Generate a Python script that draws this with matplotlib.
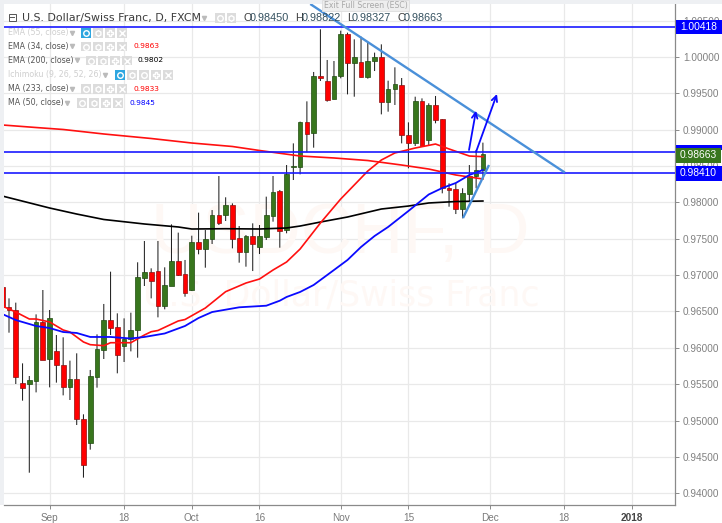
import numpy as np
import matplotlib
matplotlib.use('Agg')
import matplotlib.pyplot as plt
from matplotlib.patches import Rectangle

title = 'U.S. Dollar/Swiss Franc, D, FXCM'
ohlc_text = ['O0.98450', 'H0.98822', 'L0.98327', 'C0.98663']

days = np.arange(-1, 71)
opens = [0.96836, 0.96557, 0.96520, 0.95511, 0.95507, 0.95548, 0.96360, 0.95841, 0.95951, 0.95759,
         0.95461, 0.95566, 0.95025, 0.94686, 0.95603, 0.95974, 0.96382, 0.96282, 0.96025, 0.96117,
         0.96249, 0.96965, 0.97038, 0.97056, 0.96580, 0.96855, 0.97194, 0.97011, 0.96790, 0.97455,
         0.97354, 0.97492, 0.97827, 0.97827, 0.97964, 0.97506, 0.97313, 0.97542, 0.97391, 0.97529,
         0.97818, 0.98157, 0.97620, 0.98487, 0.98487, 0.99101, 0.98950, 0.99739, 0.99674, 0.99418,
         0.99739, 1.00316, 0.99922, 0.99936, 0.99725, 0.99945, 0.99995, 0.99381, 0.99555, 0.99619,
         0.98927, 0.98812, 0.99395, 0.98858, 0.99335, 0.99143, 0.98198, 0.98180, 0.97909, 0.98120,
         0.98363, 0.98450]
closes = [0.96561, 0.96520, 0.95594, 0.95452, 0.95553, 0.96350, 0.95837, 0.96405, 0.95759, 0.95461,
          0.95566, 0.95025, 0.94393, 0.95608, 0.95979, 0.96387, 0.96277, 0.95906, 0.96117, 0.96249,
          0.96969, 0.97038, 0.96919, 0.96580, 0.96859, 0.97194, 0.97001, 0.96758, 0.97455, 0.97354,
          0.97492, 0.97827, 0.97721, 0.97964, 0.97497, 0.97313, 0.97542, 0.97428, 0.97538, 0.97827,
          0.98148, 0.97611, 0.98391, 0.98505, 0.99101, 0.98945, 0.99739, 0.99716, 0.99413, 0.99739,
          1.00316, 0.99922, 1.00005, 0.99725, 0.99940, 0.99995, 0.99381, 0.99555, 0.99629, 0.98927,
          0.98822, 0.99395, 0.98780, 0.99335, 0.99133, 0.98194, 0.98171, 0.97905, 0.98125, 0.98368,
          0.98446, 0.98663]
highs = [0.96836, 0.96680, 0.96621, 0.95786, 0.95612, 0.96460, 0.96795, 0.96520, 0.96176, 0.96144,
         0.95823, 0.95924, 0.95085, 0.95695, 0.96185, 0.96603, 0.97047, 0.96474, 0.96405, 0.96483,
         0.97176, 0.97469, 0.97093, 0.97469, 0.97107, 0.97698, 0.97584, 0.97208, 0.97542, 0.97859,
         0.97620, 0.97895, 0.98363, 0.98070, 0.97987, 0.97675, 0.97551, 0.97712, 0.97689, 0.98079,
         0.98363, 0.98171, 0.98514, 0.98812, 0.99111, 0.99390, 0.99794, 1.00381, 0.99959, 0.99945,
         1.00362, 1.00335, 1.00243, 1.00280, 1.00197, 1.00060, 1.00174, 0.99674, 0.99858, 0.99711,
         0.99101, 0.99454, 0.99431, 0.99363, 0.99464, 0.99143, 0.98262, 0.98262, 0.98194, 0.98514,
         0.98721, 0.98822]
lows = [0.96561, 0.96208, 0.95502, 0.95273, 0.94282, 0.95387, 0.95832, 0.95456, 0.95521, 0.95346,
        0.95282, 0.94938, 0.94214, 0.94599, 0.95452, 0.95846, 0.96176, 0.95649, 0.95805, 0.95951,
        0.95864, 0.96850, 0.96680, 0.96419, 0.96529, 0.96850, 0.96988, 0.96703, 0.96781, 0.97286,
        0.97102, 0.97428, 0.97689, 0.97744, 0.97368, 0.97171, 0.97116, 0.97056, 0.97290, 0.97483,
        0.97735, 0.97377, 0.97575, 0.98308, 0.98386, 0.98689, 0.98753, 0.99670, 0.99386, 0.99418,
        0.99707, 0.99486, 0.99454, 0.99716, 0.99702, 0.99807, 0.99211, 0.99248, 0.99340, 0.98812,
        0.98469, 0.98776, 0.98767, 0.98790, 0.99088, 0.98125, 0.97941, 0.97840, 0.97781, 0.98010,
        0.98194, 0.98327]

ema34_days = [-1, 1, 3, 4, 6, 8, 9, 11, 12, 14, 15, 18, 20, 21, 22, 25, 26, 29, 32, 35, 37, 39,
              41, 43, 46, 49, 53, 55, 57, 60, 63, 65, 68, 70]
ema34 = [0.96575, 0.96492, 0.96396, 0.96396, 0.96355, 0.96245, 0.96217, 0.96080, 0.96043, 0.96029,
         0.96070, 0.96070, 0.96176, 0.96221, 0.96238, 0.96369, 0.96389, 0.96547, 0.96772, 0.96891,
         0.96946, 0.97070, 0.97180, 0.97359, 0.97717, 0.98047, 0.98432, 0.98583, 0.98680, 0.98748,
         0.98803, 0.98735, 0.98638, 0.98629]

ema200_days = [-1, 6, 10, 14, 20, 25, 27, 32, 37, 41, 43, 46, 50, 55, 59, 62, 66, 70]
ema200 = [0.98088, 0.97923, 0.97840, 0.97765, 0.97703, 0.97662, 0.97634, 0.97638, 0.97634, 0.97648,
          0.97675, 0.97730, 0.97799, 0.97909, 0.97950, 0.97992, 0.98012, 0.98019]

ma233_days = [-1, 4, 8, 14, 21, 27, 33, 37, 43, 48, 53, 58, 62, 66, 70]
ma233 = [0.99065, 0.99030, 0.99003, 0.98941, 0.98879, 0.98817, 0.98769, 0.98714, 0.98638, 0.98611,
         0.98576, 0.98514, 0.98459, 0.98377, 0.98322]

ma50_days = [-1, 1, 4, 6, 8, 10, 12, 15, 18, 20, 23, 26, 28, 30, 34, 38, 40, 41, 43, 45, 48, 50,
             52, 54, 56, 59, 62, 64, 66, 68, 70]
ma50 = [0.96465, 0.96382, 0.96300, 0.96272, 0.96217, 0.96204, 0.96149, 0.96149, 0.96128, 0.96149,
        0.96197, 0.96300, 0.96410, 0.96492, 0.96557, 0.96579, 0.96648, 0.96699, 0.96768, 0.96864,
        0.97070, 0.97208, 0.97387, 0.97538, 0.97662, 0.97882, 0.98109, 0.98198, 0.98267, 0.98377,
        0.98446]

levels = [1.00418, 0.98697, 0.98410]
level_labels = ['1.00418', '0.98663', '0.98410']

down_trend_days = [44.5, 82.1]
down_trend = [1.00729, 0.98411]
up_trend_days = [67.06, 70.9]
up_trend = [0.97785, 0.98514]
arrow_days = [(67.95, 68.98), (68.98, 72.08)]
arrow_prices = [(0.98721, 0.99261), (0.98693, 0.99491)]

xtick_days = [6, 17, 27, 37, 49, 59, 71, 82, 92]
xtick_labels = ['Sep', '18', 'Oct', '16', 'Nov', '15', 'Dec', '18', '2018']
ytick_prices = np.arange(0.94, 1.0051, 0.005)

legend_names = ['EMA (55, close)', 'EMA (34, close)', 'EMA (200, close)',
                'Ichimoku (9, 26, 52, 26)', 'MA (233, close)', 'MA (50, close)']
legend_values = ['', '0.9863', '0.9802', '', '0.9833', '0.9845']
legend_colors = ['#c8c8c8', '#ff0000', '#000000', '#c8c8c8', '#ff0000', '#0000ff']

GREEN = '#38761d'
RED = '#ff0000'
LINE_BLUE = '#1a1aff'
TREND = '#4a90d9'
GRID = '#e9e9e9'
SANS = 'Liberation Sans'
WATERMARK = '#fef8f5'

W, H = 722, 523
def day_at(px):
    return (px - 9) / 6.77
def price_at(py):
    return 1 - (py - 57) / 7270

fig = plt.figure(figsize=(W / 100, H / 100), dpi=100, facecolor='white')
L, R, T, B = 4, 675.3, 4, 505.3
ax = fig.add_axes([L / W, 1 - B / H, (R - L) / W, (B - T) / H])
ax.set_xlim(day_at(L), day_at(R))
ax.set_ylim(price_at(B), price_at(T))

for s in ['top', 'left']:
    ax.spines[s].set_visible(False)
for s in ['right', 'bottom']:
    ax.spines[s].set_color('#8a8a8a')
    ax.spines[s].set_linewidth(0.9)
ax.yaxis.tick_right()
ax.set_xticks(xtick_days)
ax.set_xticklabels(xtick_labels, fontfamily=SANS, fontsize=7.2, color='#7a7a7a')
ax.get_xticklabels()[-1].set_fontweight('bold')
ax.get_xticklabels()[-1].set_color('#444444')
ax.set_yticks(ytick_prices)
ax.set_yticklabels(['%.5f' % p for p in ytick_prices], fontfamily=SANS, fontsize=7.2, color='#808080')
ax.tick_params(axis='both', length=3, width=0.7, color='#8a8a8a', pad=2.5)
ax.grid(True, color=GRID, linewidth=0.9, zorder=0)
ax.set_axisbelow(True)

ov = fig.add_axes([0, 0, 1, 1], facecolor='none')
ov.set_xlim(0, W)
ov.set_ylim(H, 0)
ov.axis('off')
ov.set_zorder(3)

ax.text(day_at(340), price_at(235), 'USDCHF, D', fontfamily=SANS, fontsize=51, color=WATERMARK, ha='center', va='center', zorder=1)
ax.text(day_at(341), price_at(295), 'U.S. Dollar/Swiss Franc', fontsize=25, color=WATERMARK, ha='center', va='center', zorder=1)

opens_a = np.array(opens)
closes_a = np.array(closes)
tops = np.maximum(opens_a, closes_a)
bots = np.minimum(opens_a, closes_a)
colors = [GREEN if c >= o else RED for o, c in zip(opens, closes)]
edges = ['#1f4a10' if c >= o else '#8a1010' for o, c in zip(opens, closes)]
wicks = ax.vlines(days, lows, highs, color='#222222', linewidth=0.75, zorder=2)
wicks.set_snap(False)
ax.bar(days, tops - bots, bottom=bots, width=0.7, color=colors, edgecolor=edges, linewidth=0.5, zorder=3)

ax.plot(ma233_days, ma233, color='#ff1010', lw=1.2, zorder=4)
ax.plot(ema200_days, ema200, color='#000000', lw=1.2, zorder=4)
ax.plot(ema34_days, ema34, color='#ff1010', lw=1.2, zorder=4)
ax.plot(ma50_days, ma50, color='#0a0aff', lw=1.3, zorder=4)

for lev in levels:
    ax.axhline(lev, color=LINE_BLUE, lw=1.2, zorder=5)

ax.plot(down_trend_days, down_trend, color=TREND, lw=1.7, zorder=5, clip_on=False, solid_capstyle='butt')
ax.plot(up_trend_days, up_trend, color=TREND, lw=1.7, zorder=5, solid_capstyle='butt')
for xs, ys in zip(arrow_days, arrow_prices):
    ax.annotate('', xy=(xs[1], ys[1]), xytext=(xs[0], ys[0]), zorder=6,
                arrowprops=dict(arrowstyle='->', color='#0a0aff', lw=1.3, mutation_scale=10,
                                shrinkA=0, shrinkB=0))

# page strips around the chart
ov.add_patch(Rectangle((0, 0), W, T, color='#eef0f3', lw=0, zorder=0))
ov.add_patch(Rectangle((0, 0), L, B, color='#eef0f3', lw=0, zorder=0))
ov.add_patch(Rectangle((322, 0), 87, 11, facecolor='#eeeeee', edgecolor='#dddddd', lw=0.6, zorder=1))
ov.text(365.5, 5.8, 'Exit Full Screen (ESC)', fontsize=5.6, color='#a8a8a8', ha='center', va='center', zorder=2)

def small_box(x, y, glyph, on=False):
    ov.add_patch(Rectangle((x, y - 4.7), 9.6, 9.4, color='#2ea6e0' if on else '#dcdcdc', lw=0, zorder=2))
    ov.plot([x + 4.8], [y], marker=glyph, ms=4, mec='white', mfc='none', mew=1, zorder=3)

def drop_arrow(x, y, col='#bbbbbb'):
    ov.plot([x], [y], marker='v', ms=3, color=col, zorder=3)

# header
ov.add_patch(Rectangle((8.5, 13.5), 7, 7.5, facecolor='white', edgecolor='#555555', lw=0.7, zorder=2))
ov.plot([10, 14], [17.2, 17.2], color='#555555', lw=0.7, zorder=3)
ov.text(22, 18, title, fontsize=7.9, color='#3c3c3c', va='center', zorder=3)
drop_arrow(204, 17.5)
small_box(215, 18, 'o')
small_box(226.5, 18, 'h')
letter_gap = {'O': 7, 'H': 6.5, 'L': 5, 'C': 7}
for txt, px in zip(ohlc_text, [243, 295, 347, 397]):
    ov.text(px, 18, txt[0], fontfamily=SANS, fontsize=7.8, color='#3c3c3c', va='center', zorder=3)
    ov.text(px + letter_gap[txt[0]], 18, txt[1:], fontfamily=SANS, fontsize=7.8, color='#33505f', va='center', zorder=3)

# indicator legend
rows_y = [33, 46.5, 60.5, 75, 89, 103]
drop_x = [72, 72, 77, 105, 72, 67]
box_x = [81, 81, 86, 115, 81, 77]
value_x = [0, 133, 138, 0, 133, 129]
glyph_rows = [['o', 'h', 'P', 'x'], ['o', 'h', 'P', 'x'], ['o', 'h', 'P', 'x'],
              ['o', 'h', 'o', 'P', 'x'], ['o', 'h', 'P', 'x'], ['o', 'h', 'P', 'x']]
for i, name in enumerate(legend_names):
    faded = legend_values[i] == ''
    ov.text(8, rows_y[i], name, fontsize=5.7, color='#cfcfcf' if faded else '#555555', va='center', zorder=3)
    drop_arrow(drop_x[i], rows_y[i] - 0.5)
    for j, g in enumerate(glyph_rows[i]):
        small_box(box_x[i] + j * 12, rows_y[i], g, on=faded and j == 0)
    if legend_values[i]:
        ov.text(value_x[i], rows_y[i], legend_values[i], fontsize=5.4, color=legend_colors[i], va='center', zorder=3)

# last value labels on the price axis
ov.add_patch(Rectangle((676, 20), 46, 14, color='#0000ff', lw=0, zorder=2))
ov.text(698.5, 27.5, level_labels[0], fontfamily=SANS, fontsize=7.4, color='white', ha='center', va='center', zorder=3)
ov.add_patch(Rectangle((676, 144.5), 46, 5, color='#0000ff', lw=0, zorder=2))
ov.add_patch(Rectangle((676, 148), 44.5, 14.5, color=GREEN, lw=0, zorder=2))
ov.text(698, 155.5, level_labels[1], fontfamily=SANS, fontsize=7.4, color='white', ha='center', va='center', zorder=3)
ov.add_patch(Rectangle((676, 166), 46, 14.5, color='#0000ff', lw=0, zorder=2))
ov.text(698.5, 173.5, level_labels[2], fontfamily=SANS, fontsize=7.4, color='white', ha='center', va='center', zorder=3)

fig.savefig('out.png', dpi=100)
